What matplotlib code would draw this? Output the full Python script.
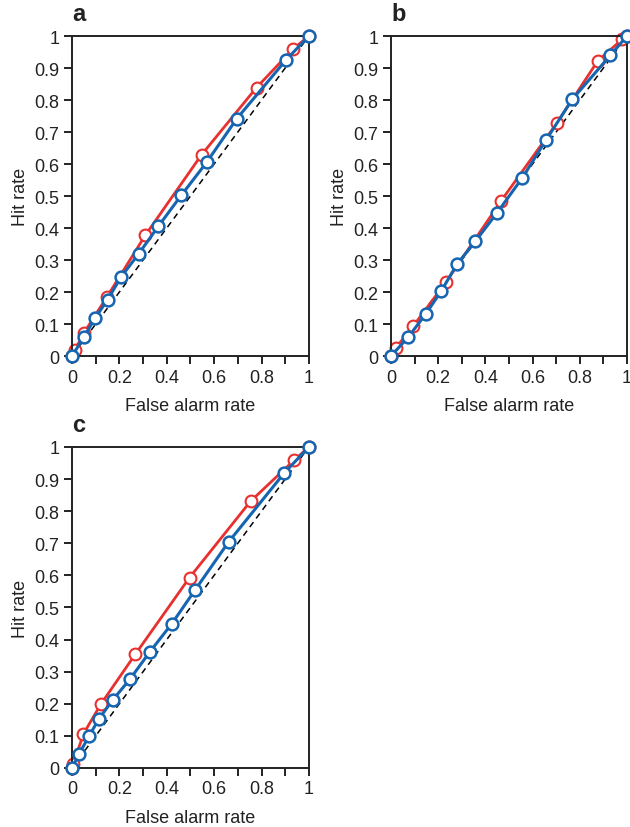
import numpy as np
import matplotlib
matplotlib.use("Agg")
import matplotlib.pyplot as plt

plt.rcParams['font.family'] = ['Liberation Sans', 'DejaVu Sans']

# ROC points per panel: (false alarm rate, hit rate)
a_red_x = [0.0, 0.013, 0.05, 0.146, 0.31, 0.547, 0.779, 0.934, 1.0]
a_red_y = [0.0, 0.02, 0.072, 0.183, 0.378, 0.629, 0.839, 0.96, 1.0]
a_blue_x = [0.0, 0.05, 0.097, 0.15, 0.208, 0.281, 0.364, 0.461, 0.568, 0.696, 0.902, 1.0]
a_blue_y = [0.0, 0.059, 0.118, 0.176, 0.248, 0.319, 0.405, 0.502, 0.605, 0.742, 0.924, 1.0]

b_red_x = [0.0, 0.021, 0.095, 0.233, 0.465, 0.702, 0.876, 0.98, 1.0]
b_red_y = [0.0, 0.026, 0.094, 0.231, 0.483, 0.727, 0.922, 0.99, 1.0]
b_blue_x = [0.0, 0.073, 0.147, 0.212, 0.28, 0.357, 0.449, 0.555, 0.657, 0.768, 0.93, 1.0]
b_blue_y = [0.0, 0.059, 0.131, 0.202, 0.287, 0.358, 0.447, 0.555, 0.675, 0.802, 0.94, 1.0]

c_red_x = [0.0, 0.006, 0.048, 0.123, 0.267, 0.496, 0.754, 0.938, 1.0]
c_red_y = [0.0, 0.012, 0.106, 0.2, 0.354, 0.593, 0.831, 0.959, 1.0]
c_blue_x = [0.0, 0.03, 0.072, 0.112, 0.172, 0.244, 0.328, 0.422, 0.52, 0.661, 0.895, 1.0]
c_blue_y = [0.0, 0.044, 0.099, 0.151, 0.212, 0.276, 0.361, 0.45, 0.555, 0.704, 0.918, 1.0]

RED = '#e8312f'
BLUE = '#1565b0'

fig = plt.figure(figsize=(6.3, 8.28), dpi=100)

def draw_panel(rect, label, rx, ry, bx, by):
    ax = fig.add_axes(rect)
    ax.plot([0, 1], [0, 1], color='black', lw=1.1, ls=(0, (4, 3)), zorder=1)
    ax.plot(rx, ry, color=RED, lw=2.0, marker='o', ms=8.5, mfc='white',
            mec=RED, mew=1.5, clip_on=False, zorder=2)
    ax.plot(bx, by, color=BLUE, lw=2.2, marker='o', ms=8.5, mfc='white',
            mec=BLUE, mew=1.8, clip_on=False, zorder=3)
    ax.set_xlim(0, 1)
    ax.set_ylim(0, 1)
    ax.set_xticks(np.arange(0, 1.01, 0.1))
    ax.set_xticklabels(['0', '', '0.2', '', '0.4', '', '0.6', '', '0.8', '', '1'])
    ax.set_yticks(np.arange(0, 1.01, 0.1))
    ax.set_yticklabels(['0', '0.1', '0.2', '0.3', '0.4', '0.5', '0.6', '0.7',
                        '0.8', '0.9', '1'])
    ax.tick_params(direction='out', length=6, width=1.4, labelsize=13, pad=3,
                   color='#222222', labelcolor='#222222')
    for s in ax.spines.values():
        s.set_linewidth(1.4)
        s.set_color('#222222')
    ax.set_xlabel('False alarm rate', fontsize=13, color='#222222', labelpad=8)
    ax.set_ylabel('Hit rate', fontsize=13, color='#222222', labelpad=4)
    ax.text(0.0, 1.035, label, transform=ax.transAxes, fontsize=17,
            fontweight='bold', ha='left', va='bottom', color='#222222')
    return ax

draw_panel([0.1143, 0.5688, 0.376, 0.3865], 'a', a_red_x, a_red_y, a_blue_x, a_blue_y)
draw_panel([0.6206, 0.5688, 0.3746, 0.3865], 'b', b_red_x, b_red_y, b_blue_x, b_blue_y)
draw_panel([0.1143, 0.0713, 0.376, 0.3877], 'c', c_red_x, c_red_y, c_blue_x, c_blue_y)

fig.savefig('out.png', dpi=100)
